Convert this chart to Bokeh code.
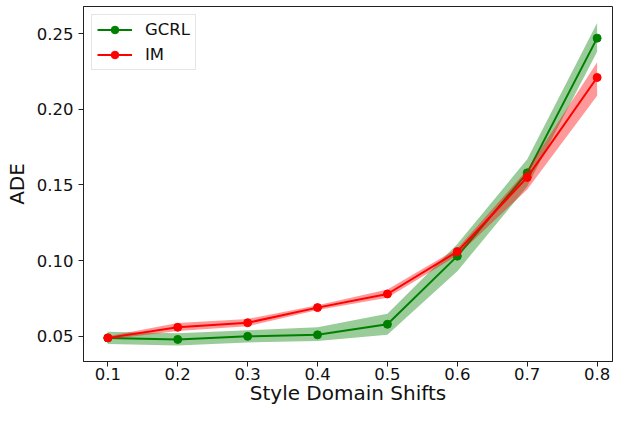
from bokeh.plotting import figure
from bokeh.models import Range1d, Legend, LegendItem, FixedTicker
from bokeh.embed import file_html
from bokeh.resources import INLINE

shifts = [0.1, 0.2, 0.3, 0.4, 0.5, 0.6, 0.7, 0.8]
gcrl = [0.049, 0.048, 0.050, 0.051, 0.058, 0.103, 0.158, 0.247]
gcrl_lo = [0.045, 0.044, 0.046, 0.047, 0.051, 0.093, 0.149, 0.238]
gcrl_hi = [0.053, 0.052, 0.054, 0.056, 0.065, 0.111, 0.167, 0.257]
im = [0.049, 0.056, 0.059, 0.069, 0.078, 0.106, 0.155, 0.221]
im_lo = [0.048, 0.0535, 0.0567, 0.0675, 0.0755, 0.1035, 0.147, 0.209]
im_hi = [0.050, 0.0588, 0.0615, 0.0705, 0.081, 0.108, 0.160, 0.231]
x_ticks = [0.1, 0.2, 0.3, 0.4, 0.5, 0.6, 0.7, 0.8]
y_ticks = [0.05, 0.10, 0.15, 0.20, 0.25]

FONT = "DejaVu Sans"

p = figure(width=613, height=407, output_backend="svg", toolbar_location=None,
           x_range=Range1d(0.0652, 0.822), y_range=Range1d(0.0334, 0.2679),
           min_border_left=83, min_border_right=1, min_border_top=6)
p.background_fill_color = "white"
p.border_fill_color = "white"
p.outline_line_color = "#222222"
p.outline_line_width = 1
p.grid.visible = False

green = "#008000"
red = "#ff0000"

gb = p.varea(x=shifts, y1=gcrl_lo, y2=gcrl_hi, fill_color=green, fill_alpha=0.4)
gl = p.line(shifts, gcrl, line_color=green, line_width=2)
gs = p.scatter(shifts, gcrl, size=8, fill_color=green, line_color=green)
rb = p.varea(x=shifts, y1=im_lo, y2=im_hi, fill_color=red, fill_alpha=0.4)
rl = p.line(shifts, im, line_color=red, line_width=2)
rs = p.scatter(shifts, im, size=8, fill_color=red, line_color=red)

for ax in (p.xaxis[0], p.yaxis[0]):
    ax.axis_line_color = "#222222"
    ax.major_tick_line_color = "#222222"
    ax.major_tick_out = 5
    ax.major_tick_in = 0
    ax.minor_tick_line_color = None
    ax.major_label_text_font = FONT
    ax.major_label_text_font_size = "16.5px"
    ax.major_label_text_color = "#111111"
    ax.axis_label_text_font = FONT
    ax.axis_label_text_font_size = "20px"
    ax.axis_label_text_font_style = "normal"
    ax.axis_label_text_color = "#111111"

p.xaxis.ticker = FixedTicker(ticks=x_ticks)
p.yaxis.ticker = FixedTicker(ticks=y_ticks)
p.xaxis.major_label_overrides = {t: f"{t:.1f}" for t in x_ticks}
p.yaxis.major_label_overrides = {t: f"{t:.2f}" for t in y_ticks}
p.xaxis.axis_label = "Style Domain Shifts"
p.yaxis.axis_label = "ADE"
p.xaxis.major_label_standoff = 1
p.xaxis.axis_label_standoff = -2
p.yaxis.major_label_standoff = 5
p.yaxis.axis_label_standoff = 5

legend = Legend(items=[LegendItem(label="GCRL", renderers=[gl, gs]),
                       LegendItem(label="IM", renderers=[rl, rs])],
                location="top_left")
legend.margin = 8
legend.padding = 5
legend.spacing = 6
legend.glyph_height = 19
legend.glyph_width = 35
legend.label_standoff = 13
legend.label_text_font = FONT
legend.label_text_font_size = "16.5px"
legend.label_text_color = "#111111"
legend.border_line_color = "#cccccc"
legend.border_line_width = 1
legend.background_fill_alpha = 0.8
p.add_layout(legend)

open("out.html", "w").write(file_html(p, INLINE))
